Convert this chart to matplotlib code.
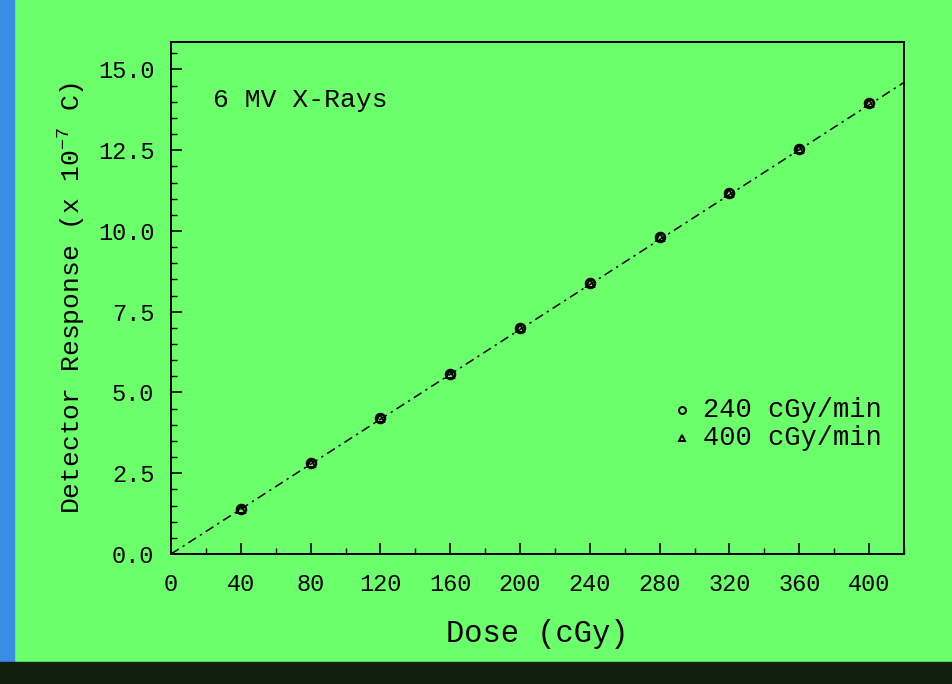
import matplotlib
matplotlib.use("Agg")
import matplotlib.pyplot as plt
from matplotlib.patches import Rectangle
from matplotlib.ticker import MultipleLocator, FormatStrFormatter

dose = [40, 80, 120, 160, 200, 240, 280, 320, 360, 400]
resp_240 = [1.40, 2.83, 4.20, 5.58, 7.00, 8.40, 9.80, 11.18, 12.55, 13.95]
resp_400 = [1.40, 2.83, 4.20, 5.58, 7.00, 8.40, 9.80, 11.18, 12.55, 13.95]
fit_x = [0, 420]
fit_y = [0.0, 14.60]
legend_labels = ["240 cGy/min", "400 cGy/min"]
annotation = "6 MV X-Rays"

green = "#6bff6b"
plt.rcParams['font.family'] = ['Liberation Mono', 'DejaVu Sans Mono']
plt.rcParams['mathtext.fontset'] = 'custom'
plt.rcParams['mathtext.rm'] = 'Liberation Mono'

fig = plt.figure(figsize=(9.52, 6.84), dpi=100, facecolor=green)
W, H = 952, 684
fig.patches.append(Rectangle((0, 0), 14 / W, 1, transform=fig.transFigure, color="#3a8de6", zorder=0))
fig.patches.append(Rectangle((0, 0), 1, 22 / H, transform=fig.transFigure, color="#10200f", zorder=0))

ax = fig.add_axes([171 / W, (H - 554) / H, (904 - 171) / W, (554 - 42) / H])
ax.set_facecolor(green)
ax.plot(fit_x, fit_y, color="black", lw=1.1, ls=(0, (6, 3, 1.5, 3)), zorder=2)
ax.plot(dose, resp_240, ls="none", marker="o", ms=6.5, mfc="none", mec="black", mew=1.8, zorder=3)
ax.plot(dose, resp_400, ls="none", marker="^", ms=5.5, mfc="none", mec="black", mew=1.4, zorder=3)

ax.set_xlim(0, 420)
ax.set_ylim(0, 15.85)
ax.xaxis.set_major_locator(MultipleLocator(40))
ax.xaxis.set_minor_locator(MultipleLocator(20))
ax.yaxis.set_major_locator(MultipleLocator(2.5))
ax.yaxis.set_minor_locator(MultipleLocator(0.5))
ax.yaxis.set_major_formatter(FormatStrFormatter("%.1f"))
ax.tick_params(which="both", direction="in", top=False, right=False, labelsize=17)
ax.tick_params(axis="y", which="major", length=8, width=1.2, pad=12)
ax.tick_params(axis="x", which="major", length=8, width=1.2, pad=14)
ax.tick_params(which="minor", length=4, width=1.0)
for s in ax.spines.values():
    s.set_linewidth(1.4)

ax.set_xlabel("Dose (cGy)", fontsize=22, labelpad=16)
ax.set_ylabel("Detector Response (x 10$^{-7}$ C)", fontsize=19, labelpad=8)

ax.text(0.057, 0.887, annotation, transform=ax.transAxes, fontsize=19, va="center")

lx, ly1, ly2 = 0.697, 0.281, 0.227
ax.plot([lx], [ly1], transform=ax.transAxes, marker="o", ms=5, mfc="none", mec="black", mew=1.4, ls="none")
ax.plot([lx], [ly2], transform=ax.transAxes, marker="^", ms=5, mfc="none", mec="black", mew=1.4, ls="none")
ax.text(0.726, ly1, legend_labels[0], transform=ax.transAxes, fontsize=19.5, va="center")
ax.text(0.726, ly2, legend_labels[1], transform=ax.transAxes, fontsize=19.5, va="center")

fig.savefig("out.png", dpi=100, facecolor=green)
